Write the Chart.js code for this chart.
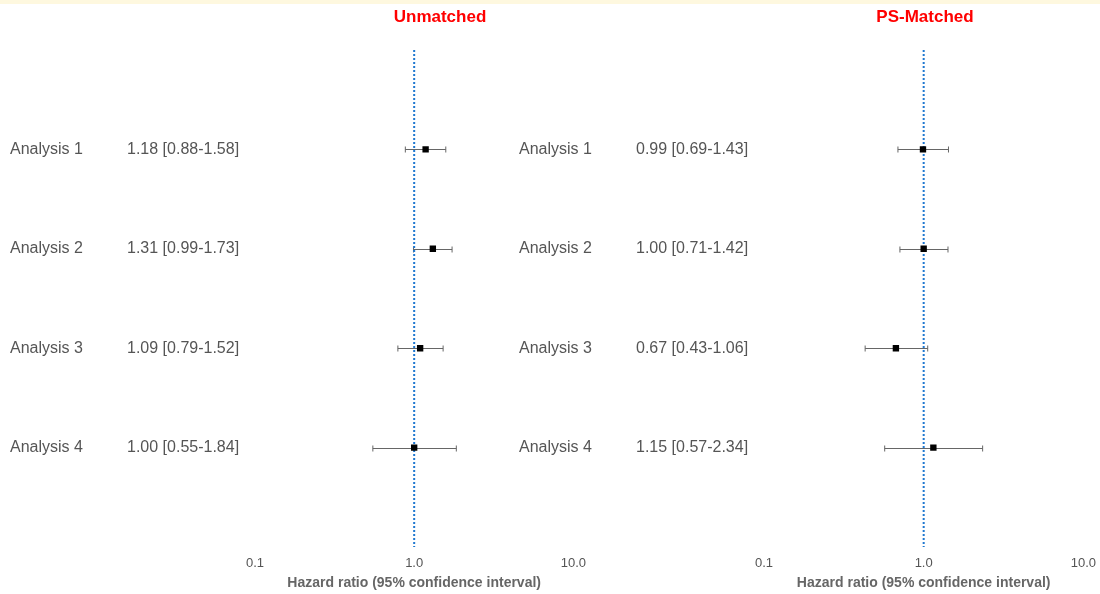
<!DOCTYPE html>
<html>
<head>
<meta charset="utf-8">
<script src="https://cdn.jsdelivr.net/npm/chart.js@4"></script>
<style>
  html, body { margin: 0; padding: 0; background: #fff; }
  body { width: 1100px; height: 594px; position: relative; overflow: hidden; }
  .band { position: absolute; left: 0; top: 0; width: 1100px; height: 4px; background: #fef8df; }
  .panel { position: absolute; top: 0; }
</style>
</head>
<body>
<div class="band"></div>
<div class="panel" style="left:0px"><canvas id="unmatched" width="595" height="594"></canvas></div>
<div class="panel" style="left:509px"><canvas id="matched" width="596" height="594"></canvas></div>
<script>
// rows
var analyses = ['Analysis 1', 'Analysis 2', 'Analysis 3', 'Analysis 4'];
var xTicks = [0.1, 1, 10];

// unmatched cohort
var hrUnmatched = [1.18, 1.31, 1.09, 1.00];
var lowUnmatched = [0.88, 0.99, 0.79, 0.55];
var highUnmatched = [1.58, 1.73, 1.52, 1.84];

// propensity-score matched cohort
var hrMatched = [0.99, 1.00, 0.67, 1.15];
var lowMatched = [0.69, 0.71, 0.43, 0.57];
var highMatched = [1.43, 1.42, 1.06, 2.34];

var FONT = "'Liberation Sans', Arial, Helvetica, sans-serif";

function fmt(v) { return v.toFixed(2); }

// labels, HR text, CI whiskers and panel title
var forestPlugin = {
    id: 'forest',
    beforeDatasetsDraw: function (chart, args, opts) {
        var ctx = chart.ctx, xs = chart.scales.x, ys = chart.scales.y;
        ctx.save();
        ctx.strokeStyle = '#666666';
        ctx.lineWidth = 1;
        for (var i = 0; i < opts.hr.length; i++) {
            var y = Math.round(ys.getPixelForValue(i + 1)) + 0.5;
            var x1 = xs.getPixelForValue(opts.low[i]);
            var x2 = xs.getPixelForValue(opts.high[i]);
            ctx.beginPath();
            ctx.moveTo(x1, y); ctx.lineTo(x2, y);
            ctx.moveTo(x1, y - 3); ctx.lineTo(x1, y + 3);
            ctx.moveTo(x2, y - 3); ctx.lineTo(x2, y + 3);
            ctx.stroke();
        }
        ctx.restore();
    },
    afterDraw: function (chart, args, opts) {
        var ctx = chart.ctx, ys = chart.scales.y;
        ctx.save();
        ctx.font = '16px ' + FONT;
        ctx.fillStyle = '#555555';
        ctx.textAlign = 'left';
        ctx.textBaseline = 'middle';
        for (var i = 0; i < opts.hr.length; i++) {
            var y = ys.getPixelForValue(i + 1);
            ctx.fillText(analyses[i], opts.labelX, y);
            ctx.fillText(fmt(opts.hr[i]) + ' [' + fmt(opts.low[i]) + '-' + fmt(opts.high[i]) + ']', opts.textX, y);
        }
        ctx.font = 'bold 17px ' + FONT;
        ctx.fillStyle = '#ff0000';
        ctx.textAlign = 'center';
        ctx.fillText(opts.title, opts.titleX, 17);
        ctx.restore();
    }
};

function makeForest(id, title, hr, low, high, titleX) {
    var pts = hr.map(function (v, i) { return { x: v, y: i + 1 }; });
    return new Chart(document.getElementById(id), {
        type: 'scatter',
        data: {
            datasets: [{
                data: pts,
                pointStyle: 'rect',
                pointRadius: 4.5,
                pointBorderWidth: 0,
                backgroundColor: '#000000'
            }, {
                type: 'line',
                data: [{ x: 1, y: 0 }, { x: 1, y: 5 }],
                borderColor: '#1f78d0',
                borderWidth: 2,
                borderDash: [2, 2],
                pointRadius: 0
            }]
        },
        options: {
            responsive: false,
            animation: false,
            layout: { padding: { left: 255, right: 0, top: 50, bottom: 0 } },
            plugins: {
                legend: { display: false },
                tooltip: { enabled: false },
                forest: { hr: hr, low: low, high: high, title: title, titleX: titleX, labelX: 10, textX: 127 }
            },
            scales: {
                x: {
                    type: 'logarithmic',
                    min: 0.1,
                    max: 10,
                    grid: { display: false, drawTicks: false },
                    border: { display: false },
                    afterBuildTicks: function (axis) {
                        axis.ticks = xTicks.map(function (v) { return { value: v }; });
                    },
                    afterFit: function (axis) { axis.height = 47; },
                    ticks: {
                        padding: 9,
                        color: '#555555',
                        font: { family: FONT, size: 13 },
                        callback: function (v) { return Number(v).toFixed(1); }
                    },
                    title: {
                        display: true,
                        text: 'Hazard ratio (95% confidence interval)',
                        color: '#666666',
                        padding: { top: 2, bottom: 2 },
                        font: { family: FONT, size: 14, weight: 'bold' }
                    }
                },
                y: {
                    type: 'linear',
                    min: 0,
                    max: 5,
                    reverse: true,
                    display: false
                }
            }
        },
        plugins: [forestPlugin]
    });
}

makeForest('unmatched', 'Unmatched', hrUnmatched, lowUnmatched, highUnmatched, 440);
makeForest('matched', 'PS-Matched', hrMatched, lowMatched, highMatched, 416);
</script>
</body>
</html>
